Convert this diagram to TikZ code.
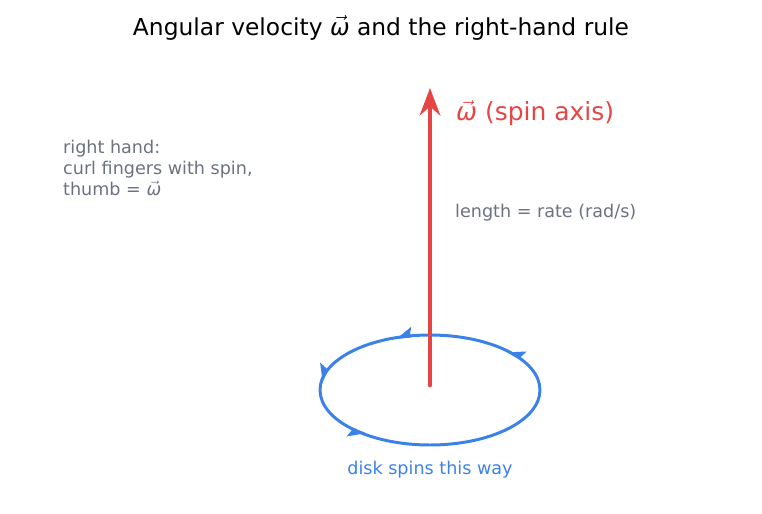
\documentclass[tikz,border=0pt]{standalone}
\usepackage{fontspec}
\setmainfont{DejaVu Sans}
\usetikzlibrary{arrows.meta}
\definecolor{axisred}{HTML}{E64545}
\definecolor{spinblue}{HTML}{3B82E8}
\definecolor{notegray}{HTML}{6B7280}
\newcommand{\omvec}{$\vec{\mbox{\itshape ω}}$}

\begin{document}
\begin{tikzpicture}[x=0.02cm, y=-0.02cm, >=Stealth, line cap=round, line join=round,
  note/.style={text=notegray, font=\fontsize{10}{12}\selectfont, align=left},
  spintip/.style={spinblue, line width=1.7pt, -{Stealth[harpoon, swap, length=8pt, width=10pt, inset=1.5pt]}}]

\useasboundingbox (0,0) rectangle (762,514);

% Titolo
\node (title) at (381,28) {\fontsize{13.3}{16}\selectfont Angular velocity \omvec{} and the right-hand rule};

% Disco (ellisse)
\draw[spinblue, line width=1.7pt] (430,390) ellipse [x radius=110, y radius=55];

% Frecce di rotazione
\foreach \a in {45,108,171,234}
  \draw[spintip] ({430+110*cos(\a-8)}, {390-55*sin(\a-8)}) -- ({430+110*cos(\a)}, {390-55*sin(\a)});

% Asse di rotazione
\coordinate (base) at (430,385);
\coordinate (tip) at (430,88);
\draw[->, axisred, line width=2.8pt] (base) -- (tip);

% Etichette
\node[anchor=west, text=axisred, font=\fontsize{14.2}{16}\selectfont] (omlabel) at (450,113) {\omvec{} (spin axis)};
\node[note, anchor=west] (rate) at (449,213) {length = rate (rad/s)};
\node[note, anchor=north west] (hand) at (57,134) {right hand:\\curl fingers with spin,\\thumb = \omvec};
\node[text=spinblue, font=\fontsize{10}{12}\selectfont] (disk) at (430,470) {disk spins this way};

\end{tikzpicture}
\end{document}
